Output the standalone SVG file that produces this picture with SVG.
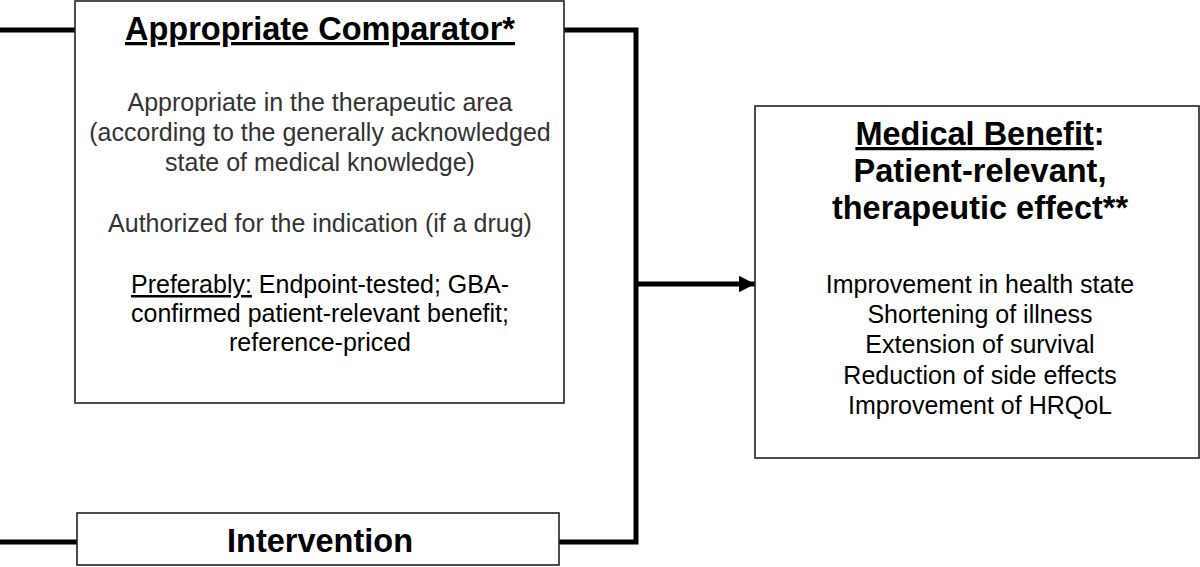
<svg xmlns="http://www.w3.org/2000/svg" width="1200" height="567" viewBox="0 0 1200 567">
<style>
.box{fill:#fff;stroke:#222;stroke-width:1.6}
.conn{fill:none;stroke:#000;stroke-width:5}
.title{font-family:"Liberation Sans",Arial,sans-serif;font-weight:bold;font-size:32.5px;fill:#000;text-anchor:middle}
.body{font-family:"Liberation Sans",Arial,sans-serif;font-size:25px;fill:#000;text-anchor:middle}
.gray{fill:#333}
</style>
<defs>
<marker id="ah" markerWidth="4" markerHeight="4" refX="3.2" refY="2" orient="auto" markerUnits="strokeWidth">
<path d="M0,0.35 L3.2,2 L0,3.65 Z" fill="#000"/>
</marker>
</defs>
<rect width="1200" height="567" fill="#fff"/>
<g id="connectors">
<line class="conn" x1="0" y1="30" x2="75" y2="30"/>
<line class="conn" x1="0" y1="542" x2="77" y2="542"/>
<polyline class="conn" points="564,30 636,30 636,542 559,542"/>
<line class="conn" x1="636" y1="284" x2="755" y2="284" marker-end="url(#ah)"/>
</g>
<g id="comparator">
<rect class="box" x="75" y="1" width="489" height="402"/>
<text class="title" x="320" y="40" text-decoration="underline">Appropriate Comparator*</text>
<text class="body gray" x="320" y="111">Appropriate in the therapeutic area</text>
<text class="body gray" x="320" y="141">(according to the generally acknowledged</text>
<text class="body gray" x="320" y="171">state of medical knowledge)</text>
<text class="body gray" x="320" y="232">Authorized for the indication (if a drug)</text>
<text class="body" x="320" y="293"><tspan text-decoration="underline">Preferably:</tspan> Endpoint-tested; GBA-</text>
<text class="body" x="320" y="322">confirmed patient-relevant benefit;</text>
<text class="body" x="320" y="351">reference-priced</text>
</g>
<g id="intervention">
<rect class="box" x="77" y="513" width="482" height="52"/>
<text class="title" x="320" y="552">Intervention</text>
</g>
<g id="medical-benefit">
<rect class="box" x="755" y="106" width="444" height="352"/>
<text class="title" x="980" y="145"><tspan text-decoration="underline">Medical Benefit</tspan>:</text>
<text class="title" x="980" y="182">Patient-relevant,</text>
<text class="title" x="980" y="219">therapeutic effect**</text>
<text class="body" x="980" y="293">Improvement in health state</text>
<text class="body" x="980" y="323">Shortening of illness</text>
<text class="body" x="980" y="353">Extension of survival</text>
<text class="body" x="980" y="384">Reduction of side effects</text>
<text class="body" x="980" y="414">Improvement of HRQoL</text>
</g>
</svg>
